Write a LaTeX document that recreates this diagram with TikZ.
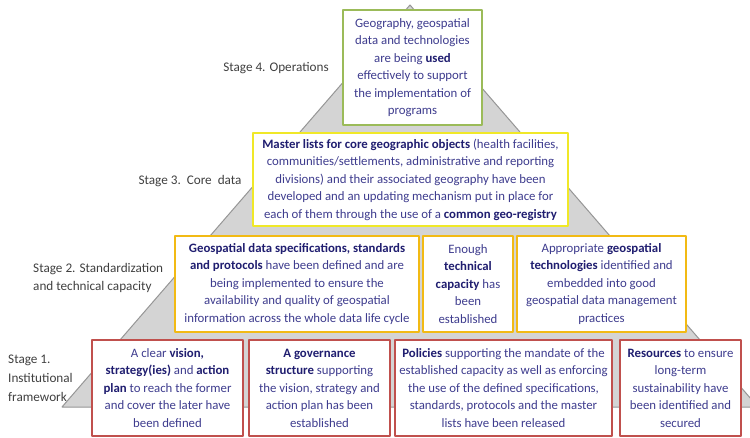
\documentclass[tikz,border=0pt]{standalone}
\usepackage{fontspec}
\setmainfont{Carlito}
\usepackage{tikz}

\definecolor{pyrfill}{RGB}{212,212,212}
\definecolor{pyrline}{RGB}{150,150,150}
\definecolor{txtblue}{RGB}{62,60,142}
\definecolor{kwblue}{RGB}{32,30,112}
\definecolor{stagegray}{RGB}{64,64,64}
\definecolor{opgreen}{RGB}{155,187,89}
\definecolor{coreyellow}{RGB}{240,232,40}
\definecolor{stdorange}{RGB}{242,186,20}
\definecolor{instred}{RGB}{192,80,77}

\newcommand{\kw}[1]{{\bfseries\color{kwblue}#1}}

\tikzset{
  stagebox/.style={draw,fill=white,line width=1.6pt,inner sep=2pt,align=center,
    text=txtblue,font=\fontsize{12.8}{17.5}\selectfont},
  stagelabel/.style={inner sep=0pt,text=stagegray,font=\fontsize{13.2}{18.8}\selectfont}
}

\begin{document}
\begin{tikzpicture}[line cap=round,line join=round,x=1pt,y=-1pt]
				\useasboundingbox (0,0) rectangle (750,438);
				% pyramid behind the boxes
				\begin{scope}
				\clip (0,0) rectangle (750,438);
				\draw [line width=1pt,color=pyrline,fill=pyrfill] (410,5)-- (62,407)-- (758,407)-- cycle;
				\end{scope}
				% stage 4
				\node[stagebox,draw=opgreen,minimum width=139pt,minimum height=115pt] (op) at (412.5,67.5) {Geography, geospatial\\ data and technologies\\ are being \kw{used}\\ effectively to support\\ the implementation of\\ programs};
				% stage 3
				\node[stagebox,draw=coreyellow,minimum width=315pt,minimum height=93pt] (core) at (410.5,179.5) {\kw{Master lists for core geographic objects} (health facilities,\\ communities/settlements, administrative and reporting\\ divisions) and their associated geography have been\\ developed and an updating mechanism put in place for\\ each of them through the use of a \kw{common geo-registry}};
				% stage 2
				\node[stagebox,draw=stdorange,minimum width=244pt,minimum height=96pt] (specs) at (297,284) {\kw{Geospatial data specifications, standards}\\ \kw{and protocols} have been defined and are\\ being implemented to ensure the\\ availability and quality of geospatial\\ information across the whole data life cycle};
				\node[stagebox,draw=stdorange,minimum width=90pt,minimum height=96pt] (capac) at (468,284) {Enough\\ \kw{technical}\\ \kw{capacity} has\\ been\\ established};
				\node[stagebox,draw=stdorange,minimum width=169pt,minimum height=96pt] (techn) at (601.5,284) {Appropriate \kw{geospatial}\\ \kw{technologies} identified and\\ embedded into good\\ geospatial data management\\ practices};
				% stage 1
				\node[stagebox,draw=instred,minimum width=151pt,minimum height=96pt] (vision) at (167.5,388) {A clear \kw{vision,}\\ \kw{strategy(ies)} and \kw{action}\\ \kw{plan} to reach the former\\ and cover the later have\\ been defined};
				\node[stagebox,draw=instred,minimum width=141pt,minimum height=96pt] (govern) at (319.5,388) {\kw{A governance}\\ \kw{structure} supporting\\ the vision, strategy and\\ action plan has been\\ established};
				\node[stagebox,draw=instred,minimum width=217pt,minimum height=96pt] (policy) at (503.5,388) {\kw{Policies} supporting the mandate of the\\ established capacity as well as enforcing\\ the use of the defined specifications,\\ standards, protocols and the master\\ lists have been released};
				\node[stagebox,draw=instred,minimum width=121pt,minimum height=96pt] (resour) at (680.5,388) {\kw{Resources} to ensure\\ long-term\\ sustainability have\\ been identified and\\ secured};
				% stage names on the left
				\node[stagelabel] (lab4) at (276,68) {Stage 4. Operations};
				\node[stagelabel] (lab3) at (190,181) {Stage 3.\ \ Core\ \ data};
				\node[stagelabel,anchor=west,align=left] (lab2) at (33,278) {Stage 2. Standardization\\ and technical capacity};
				\node[stagelabel,anchor=west,align=left] (lab1) at (8,378) {Stage 1.\\ Institutional\\ framework};
			\end{tikzpicture}
\end{document}
